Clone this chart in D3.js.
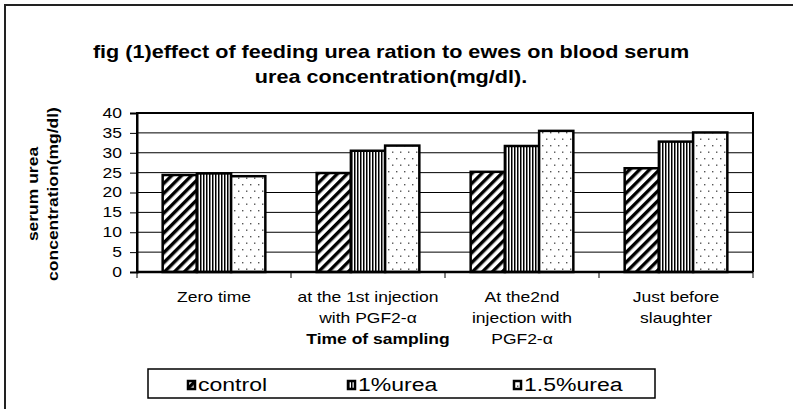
<!DOCTYPE html>
<html>
<head>
<meta charset="utf-8">
<script src="https://cdn.jsdelivr.net/npm/d3@7"></script>
<style>
  html, body { margin: 0; padding: 0; background: #fff; }
  svg { display: block; font-family: "Liberation Sans", Arial, sans-serif; }
</style>
</head>
<body>
<svg id="chart" width="793" height="409"></svg>
<script>
/* ── Data ─────────────────────────────────────────────── */
const categories = ['Zero time', 'at the 1st injection', 'At the2nd', 'Just before'];
const categoryLines = [
  ['Zero time'],
  ['at the 1st injection', 'with PGF2-α'],
  ['At the2nd', 'injection with', 'PGF2-α'],
  ['Just before', 'slaughter']
];
const seriesNames = ['control', '1%urea', '1.5%urea'];
const controlValues = [24.4, 24.9, 25.2, 26.1];
const urea1Values   = [24.8, 30.5, 31.7, 32.8];
const urea15Values  = [24.1, 31.8, 35.5, 35.1];
const yTicks = [0, 5, 10, 15, 20, 25, 30, 35, 40];
const titleLines = [
  'fig (1)effect of feeding urea ration to ewes on blood serum',
  'urea concentration(mg/dl).'
];
const yTitleLines = ['serum urea', 'concentration(mg/dl)'];
const xTitle = 'Time of sampling';

/* ── Layout ───────────────────────────────────────────── */
const svg = d3.select('#chart');
const plot = { left: 137, right: 753, top: 113, bottom: 272 };
const STRETCH = 1.25;   // text in the reference is drawn wide
const seriesValues = [controlValues, urea1Values, urea15Values];
const patternIds = ['pat-diag', 'pat-vert', 'pat-dots'];

/* ── Patterns ─────────────────────────────────────────── */
const defs = svg.append('defs');

const pDiag = defs.append('pattern')
  .attr('id', 'pat-diag').attr('patternUnits', 'userSpaceOnUse')
  .attr('width', 7).attr('height', 7)
  .attr('patternTransform', 'rotate(45)');
pDiag.append('rect').attr('width', 7).attr('height', 7).attr('fill', '#fff');
pDiag.append('rect').attr('width', 3.4).attr('height', 7).attr('fill', '#000');

const pVert = defs.append('pattern')
  .attr('id', 'pat-vert').attr('patternUnits', 'userSpaceOnUse')
  .attr('width', 3).attr('height', 3);
pVert.append('rect').attr('width', 3).attr('height', 3).attr('fill', '#fff');
pVert.append('rect').attr('width', 1.5).attr('height', 3).attr('fill', '#000');

const pDots = defs.append('pattern')
  .attr('id', 'pat-dots').attr('patternUnits', 'userSpaceOnUse')
  .attr('width', 8).attr('height', 13);
pDots.append('rect').attr('width', 8).attr('height', 13).attr('fill', '#fff');
pDots.append('rect').attr('x', 1).attr('y', 2).attr('width', 1.4).attr('height', 1.4).attr('fill', '#555');
pDots.append('rect').attr('x', 5).attr('y', 8.5).attr('width', 1.4).attr('height', 1.4).attr('fill', '#555');

/* ── Outer chart-area border ──────────────────────────── */
svg.append('rect')
  .attr('x', 5).attr('y', 5).attr('width', 820).attr('height', 430)
  .attr('fill', 'none').attr('stroke', '#222').attr('stroke-width', 2);

/* ── Scales ───────────────────────────────────────────── */
const x0 = d3.scaleBand().domain(categories).range([plot.left, plot.right]);
const pad = x0.bandwidth() * 1.5 / 9;   // Excel gap width 150%
const x1 = d3.scaleBand().domain(seriesNames).range([pad, x0.bandwidth() - pad]);
const y = d3.scaleLinear().domain([0, 40]).range([plot.bottom, plot.top]);

/* ── Gridlines ────────────────────────────────────────── */
svg.append('g').selectAll('line')
  .data(yTicks.filter(t => t > 0))
  .join('line')
  .attr('x1', plot.left).attr('x2', plot.right)
  .attr('y1', d => y(d)).attr('y2', d => y(d))
  .attr('stroke', '#000').attr('stroke-width', 1);

/* ── Bars ─────────────────────────────────────────────── */
const groups = svg.append('g').selectAll('g')
  .data(categories)
  .join('g')
  .attr('transform', d => `translate(${x0(d)},0)`);

groups.selectAll('rect')
  .data((c, ci) => seriesNames.map((s, si) => ({ s, si, v: seriesValues[si][ci] })))
  .join('rect')
  .attr('x', d => x1(d.s))
  .attr('width', x1.bandwidth())
  .attr('y', d => y(d.v))
  .attr('height', d => y(0) - y(d.v))
  .attr('fill', d => `url(#${patternIds[d.si]})`)
  .attr('stroke', '#000').attr('stroke-width', 2.5);

/* ── Plot frame ───────────────────────────────────────── */
svg.append('path')
  .attr('d', `M${plot.left},${plot.bottom}V${plot.top}H${plot.right}V${plot.bottom}`)
  .attr('fill', 'none').attr('stroke', '#000').attr('stroke-width', 2);

/* ── Y axis ───────────────────────────────────────────── */
const yAxis = svg.append('g')
  .attr('transform', `translate(${plot.left},0)`)
  .call(d3.axisLeft(y).tickValues(yTicks).tickSize(7).tickPadding(8));
yAxis.select('.domain').attr('stroke', '#000').attr('stroke-width', 2);
yAxis.selectAll('.tick line').attr('stroke', '#000').attr('stroke-width', 1);
yAxis.selectAll('.tick text')
  .attr('font-size', 14).attr('font-family', '"Liberation Sans", Arial, sans-serif')
  .attr('fill', '#000')
  .attr('x', -15 / STRETCH)
  .attr('transform', `scale(${STRETCH},1)`);

/* ── X axis ───────────────────────────────────────────── */
svg.append('line')
  .attr('x1', plot.left).attr('x2', plot.right)
  .attr('y1', plot.bottom).attr('y2', plot.bottom)
  .attr('stroke', '#000').attr('stroke-width', 2.5);

const boundaries = categories.map(c => x0(c)).concat([x0.range()[1]]);
svg.append('g').selectAll('line')
  .data(boundaries)
  .join('line')
  .attr('x1', d => d).attr('x2', d => d)
  .attr('y1', plot.bottom).attr('y2', plot.bottom + 6)
  .attr('stroke', '#000').attr('stroke-width', 1);

const xLabels = svg.append('g').attr('font-size', 14).attr('fill', '#000');
categories.forEach((c, i) => {
  const cx = x0(c) + x0.bandwidth() / 2;
  categoryLines[i].forEach((line, li) => {
    xLabels.append('text')
      .attr('text-anchor', 'middle')
      .attr('transform', `translate(${cx},${302 + li * 21}) scale(${STRETCH},1)`)
      .text(line);
  });
});

/* ── Titles ───────────────────────────────────────────── */
titleLines.forEach((t, i) => {
  svg.append('text')
    .attr('text-anchor', 'middle')
    .attr('font-size', 18).attr('font-weight', 'bold')
    .attr('transform', `translate(391,${58 + i * 25}) scale(1.2,1)`)
    .text(t);
});

yTitleLines.forEach((t, i) => {
  svg.append('text')
    .attr('text-anchor', 'middle')
    .attr('font-size', 14).attr('font-weight', 'bold')
    .attr('transform', `translate(${38 + i * 20},194) rotate(-90) scale(${STRETCH},1)`)
    .text(t);
});

svg.append('text')
  .attr('text-anchor', 'middle')
  .attr('font-size', 14).attr('font-weight', 'bold')
  .attr('transform', `translate(378,344) scale(${STRETCH},1)`)
  .text(xTitle);

/* ── Legend ───────────────────────────────────────────── */
const legend = svg.append('g');
legend.append('rect')
  .attr('x', 148).attr('y', 369).attr('width', 507).attr('height', 29)
  .attr('fill', '#fff').attr('stroke', '#000').attr('stroke-width', 1.5);

const legendX = [188, 348, 514];
seriesNames.forEach((s, i) => {
  legend.append('rect')
    .attr('x', legendX[i]).attr('y', 381).attr('width', 7).attr('height', 8)
    .attr('fill', `url(#${patternIds[i]})`)
    .attr('stroke', '#000').attr('stroke-width', 2.5);
  legend.append('text')
    .attr('font-size', 18)
    .attr('transform', `translate(${legendX[i] + 10},391) scale(1.28,1)`)
    .text(s);
});
</script>
</body>
</html>
